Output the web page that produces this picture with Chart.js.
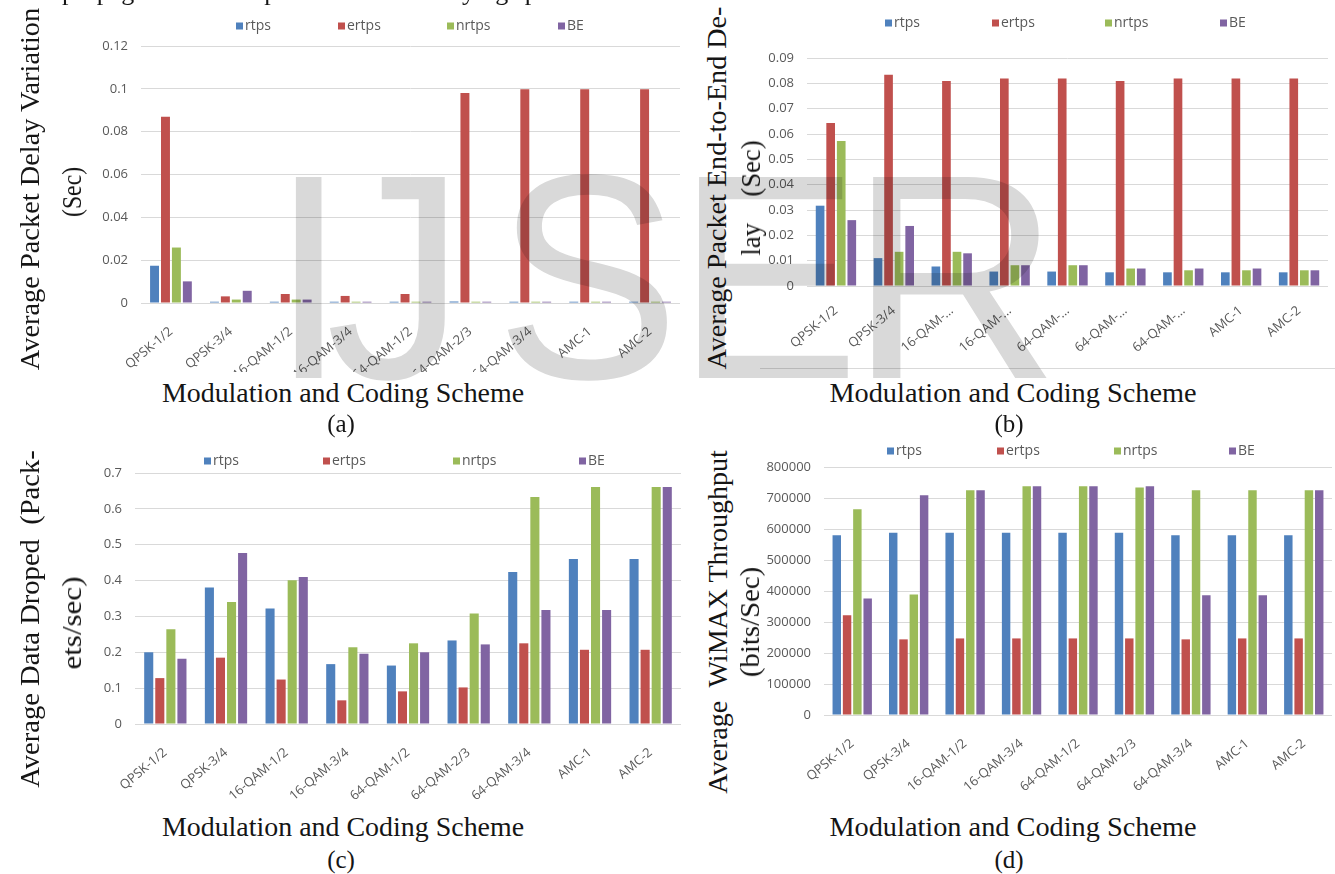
<!DOCTYPE html>
<html>
<head>
<meta charset="utf-8">
<script src="https://cdn.jsdelivr.net/npm/chart.js@4.4.1/dist/chart.umd.min.js"></script>
<style>
  html, body { margin: 0; padding: 0; background: #fff; }
  body { width: 1335px; height: 874px; position: relative; overflow: hidden; }
  canvas.chart { position: absolute; }
  .t { position: absolute; white-space: pre; color: #151515; font-family: "Liberation Serif", serif; line-height: 1; }
  #wm { position: absolute; left: 0; top: 0; mix-blend-mode: multiply; pointer-events: none; z-index: 5; }
  .rule { position: absolute; height: 1px; background: #d9d9d9; }
</style>
</head>
<body>
<canvas id="chartA" class="chart" width="690" height="372" style="left:0px;top:0px"></canvas>
<canvas id="chartB" class="chart" width="575" height="372" style="left:760px;top:0px"></canvas>
<canvas id="chartC" class="chart" width="690" height="380" style="left:0px;top:430px"></canvas>
<canvas id="chartD" class="chart" width="575" height="380" style="left:760px;top:430px"></canvas>
<div class="rule" style="left:760px;top:368px;width:575px"></div>
<canvas id="wm" width="1335" height="874"></canvas>

<script>
// Categories (modulation and coding schemes)
const mcsLabels = ['QPSK-1/2', 'QPSK-3/4', '16-QAM-1/2', '16-QAM-3/4', '64-QAM-1/2', '64-QAM-2/3', '64-QAM-3/4', 'AMC-1', 'AMC-2'];
const mcsLabelsCut = ['QPSK-1/2', 'QPSK-3/4', '16-QAM-…', '16-QAM-…', '64-QAM-…', '64-QAM-…', '64-QAM-…', 'AMC-1', 'AMC-2'];
const seriesNames = ['rtps', 'ertps', 'nrtps', 'BE'];
const seriesColors = ['#4f81bd', '#c0504d', '#9bbb59', '#8064a2'];

// (a) Average packet delay variation (sec)
const pdvRtps  = [0.0174, 0.0006, 0.0006, 0.0006, 0.0006, 0.0007, 0.0006, 0.0006, 0.0006];
const pdvErtps = [0.0870, 0.0031, 0.0042, 0.0033, 0.0042, 0.0981, 0.0998, 0.0998, 0.0998];
const pdvNrtps = [0.0259, 0.0016, 0.0016, 0.0006, 0.0006, 0.0006, 0.0006, 0.0006, 0.0006];
const pdvBE    = [0.0101, 0.0057, 0.0016, 0.0006, 0.0006, 0.0006, 0.0006, 0.0006, 0.0006];
const pdvTicks = [0, 0.02, 0.04, 0.06, 0.08, 0.1, 0.12];

// (b) Average packet end-to-end delay (sec)
const e2eRtps  = [0.0317, 0.0110, 0.0077, 0.0057, 0.0057, 0.0054, 0.0054, 0.0054, 0.0054];
const e2eErtps = [0.0643, 0.0834, 0.0809, 0.0819, 0.0819, 0.0809, 0.0819, 0.0819, 0.0819];
const e2eNrtps = [0.0572, 0.0135, 0.0135, 0.0082, 0.0082, 0.0069, 0.0062, 0.0062, 0.0062];
const e2eBE    = [0.0260, 0.0237, 0.0129, 0.0082, 0.0082, 0.0069, 0.0069, 0.0069, 0.0062];
const e2eTicks = [0, 0.01, 0.02, 0.03, 0.04, 0.05, 0.06, 0.07, 0.08, 0.09];

// (c) Average data dropped (packets/sec)
const dropRtps  = [0.200, 0.381, 0.322, 0.167, 0.163, 0.233, 0.424, 0.460, 0.460];
const dropErtps = [0.128, 0.185, 0.124, 0.066, 0.091, 0.102, 0.225, 0.207, 0.207];
const dropNrtps = [0.264, 0.340, 0.401, 0.214, 0.225, 0.308, 0.633, 0.661, 0.661];
const dropBE    = [0.182, 0.477, 0.410, 0.196, 0.200, 0.222, 0.318, 0.318, 0.661];
const dropTicks = [0, 0.1, 0.2, 0.3, 0.4, 0.5, 0.6, 0.7];

// (d) Average WiMAX throughput (bits/sec)
const thrRtps  = [580000, 588000, 588000, 588000, 588000, 588000, 580000, 580000, 580000];
const thrErtps = [322000, 244000, 247000, 247000, 247000, 247000, 244000, 247000, 247000];
const thrNrtps = [664000, 389000, 725000, 738000, 738000, 734000, 725000, 725000, 725000];
const thrBE    = [376000, 709000, 725000, 738000, 738000, 738000, 386000, 386000, 725000];
const thrTicks = [0, 100000, 200000, 300000, 400000, 500000, 600000, 700000, 800000];

// legend drawn as a row of squares + names at fixed spots
const rowLegend = {
  id: 'rowLegend',
  afterDraw(chart, args, opts) {
    const ctx = chart.ctx;
    ctx.save();
    ctx.font = '14px "Open Sans"';
    ctx.textBaseline = 'middle';
    chart.data.datasets.forEach((ds, i) => {
      const x = opts.xs[i];
      ctx.fillStyle = ds.backgroundColor;
      ctx.fillRect(x, opts.y - 3.5, 7, 7);
      ctx.fillStyle = '#595959';
      ctx.fillText(ds.label, x + 9, opts.y);
    });
    ctx.restore();
  }
};

function fmt(v) {
  if (v === 0) return '0';
  return String(parseFloat(v.toFixed(4)));
}

function makeChart(id, labels, series, ticks, g) {
  return new Chart(document.getElementById(id), {
    type: 'bar',
    data: {
      labels,
      datasets: seriesNames.map((name, i) => ({
        label: name,
        data: series[i],
        backgroundColor: seriesColors[i],
        borderWidth: 0,
        barPercentage: 0.82,
        categoryPercentage: 0.73
      }))
    },
    options: {
      responsive: false,
      animation: false,
      layout: { padding: { top: g.top, right: g.right, left: 0, bottom: 0 } },
      plugins: {
        legend: { display: false },
        tooltip: { enabled: false },
        rowLegend: { xs: g.legendX, y: g.legendY }
      },
      scales: {
        x: {
          grid: { display: false },
          border: { display: false },
          ticks: {
            autoSkip: false, maxRotation: 40, minRotation: 40, padding: g.xPad,
            color: '#595959', font: { family: 'Open Sans', size: 13 }
          },
          afterFit: s => { s.height = g.xH; }
        },
        y: {
          min: ticks[0],
          max: ticks[ticks.length - 1],
          grid: { color: '#d9d9d9', drawTicks: false },
          border: { display: false },
          ticks: {
            padding: 13, color: '#595959', font: { family: 'Open Sans', size: 13 },
            callback: v => fmt(v)
          },
          afterBuildTicks: s => { s.ticks = ticks.map(v => ({ value: v })); },
          afterFit: s => { s.width = g.yW; }
        }
      }
    },
    plugins: [rowLegend]
  });
}

makeChart('chartA', mcsLabels, [pdvRtps, pdvErtps, pdvNrtps, pdvBE], pdvTicks,
  { top: 46, right: 10, yW: 141, xH: 69, xPad: 13, legendX: [236, 338, 447, 558], legendY: 26 });
makeChart('chartB', mcsLabelsCut, [e2eRtps, e2eErtps, e2eNrtps, e2eBE], e2eTicks,
  { top: 58, right: 7, yW: 47, xH: 86, xPad: 9, legendX: [125, 232, 345, 460], legendY: 23 });
makeChart('chartC', mcsLabels, [dropRtps, dropErtps, dropNrtps, dropBE], dropTicks,
  { top: 43, right: 9, yW: 135, xH: 86, xPad: 13, legendX: [204, 323, 453, 579], legendY: 31 });
makeChart('chartD', mcsLabels, [thrRtps, thrErtps, thrNrtps, thrBE], thrTicks,
  { top: 37, right: 3, yW: 64, xH: 95, xPad: 13, legendX: [127, 237, 354, 469], legendY: 21 });

// serif captions, stretched to the lengths seen in the figure
function caption(text, cx, cy, len, size, vertical) {
  const el = document.createElement('div');
  el.className = 't';
  el.textContent = text;
  el.style.fontSize = size + 'px';
  document.body.appendChild(el);
  const s = len ? len / el.offsetWidth : 1;
  el.style.left = cx + 'px';
  el.style.top = cy + 'px';
  el.style.transform = 'translate(-50%,-50%) ' + (vertical ? 'rotate(-90deg) ' : '') + 'scaleX(' + s + ')';
  return el;
}

const topLine = document.createElement('div');
topLine.className = 't';
topLine.textContent = 'propagation model parameters and varying speed';
topLine.style.fontSize = '26px';
topLine.style.left = '62px';
topLine.style.top = '-21px';
document.body.appendChild(topLine);

caption('Average Packet Delay Variation', 30, 189, 362, 28, true);
caption('(Sec)', 72, 192, 50, 28, true);
caption('Modulation and Coding Scheme', 343, 393, 362, 27, false);
caption('(a)', 341, 423, 0, 25, false);

caption('Average Packet End-to-End De-', 717, 188, 363, 28, true);
caption('lay    (Sec)', 751, 198, 115, 28, true);
caption('Modulation and Coding Scheme', 1013, 393, 367, 27, false);
caption('(b)', 1009, 423, 0, 25, false);

caption('Average Data Droped  (Pack-', 30, 619, 338, 28, true);
caption('ets/sec)', 72, 623, 93, 28, true);
caption('Modulation and Coding Scheme', 343, 827, 362, 27, false);
caption('(c)', 341, 859, 0, 25, false);

caption('Average  WiMAX Throughput', 718, 622, 343, 28, true);
caption('(bits/Sec)', 750, 622, 110, 28, true);
caption('Modulation and Coding Scheme', 1013, 827, 367, 27, false);
caption('(d)', 1009, 859, 0, 25, false);

// grey "IJSER" stamp laid over the whole figure, each letter fitted to its ink box
const wctx = document.getElementById('wm').getContext('2d');
wctx.font = '292px "Liberation Sans"';
wctx.fillStyle = '#d9d9d9';
[['I', 292, 30], ['J', 330, 118], ['S', 504, 164], ['E', 698, 150], ['R', 872, 178]].forEach(([ch, x, w]) => {
  const m = wctx.measureText(ch);
  const ink = m.actualBoundingBoxLeft + m.actualBoundingBoxRight;
  wctx.save();
  wctx.translate(x, 378);
  wctx.scale(w / ink, 1);
  wctx.fillText(ch, m.actualBoundingBoxLeft, 0);
  wctx.restore();
});
</script>
</body>
</html>
